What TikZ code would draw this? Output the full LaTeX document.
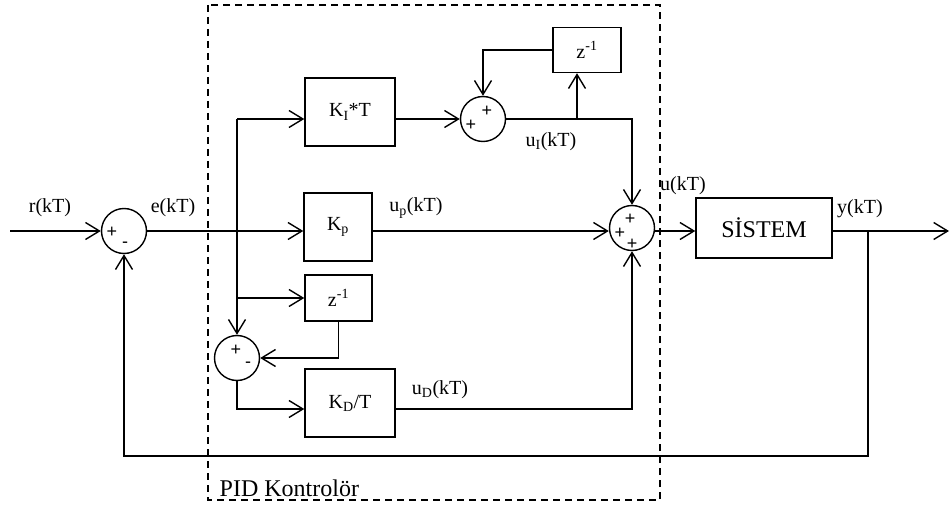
\documentclass[tikz,border=0pt]{standalone}
\usepackage{fontspec}
\setmainfont{Liberation Serif}
\newfontfamily\signfont{Liberation Sans}
\usetikzlibrary{arrows.meta,calc}
\begin{document}
\begin{tikzpicture}[x=1pt,y=-1pt,line width=1.4pt,
  >={Straight Barb[length=14pt,width=17pt,line width=1.4pt]},
  blk/.style={draw,rectangle,inner sep=0pt,font=\fontsize{20}{24}\selectfont},
  sumc/.style={draw,circle,minimum size=45pt,inner sep=0pt},
  lbl/.style={font=\fontsize{20}{24}\selectfont,inner sep=0pt},
  sgn/.style={font=\signfont\fontsize{18}{20}\selectfont,inner sep=0pt},
  pidbox/.style={dashed,dash pattern=on 7pt off 5pt,line width=1.2pt}]
\useasboundingbox (0,0) rectangle (951,508);
% dashed controller boundary
\draw[pidbox] (208,5) rectangle (660,500);
\node[anchor=base west,inner sep=0pt,font=\fontsize{24}{28}\selectfont] (pid) at (219,496) {PID Kontrolör};
% blocks
\node[blk,minimum width=90pt,minimum height=68pt] (kit) at (350,112) {K\textsubscript{I}*T};
\node[blk,minimum width=68pt,minimum height=68pt] (kp) at (338,227) {K\textsubscript{p}};
\node[blk,minimum width=67pt,minimum height=46pt] (zl) at (338.5,298) {z\textsuperscript{-1}};
\node[blk,minimum width=90pt,minimum height=68pt] (kdt) at (350,403) {K\textsubscript{D}/T};
\node[blk,minimum width=68pt,minimum height=45pt] (zu) at (587,50) {z\textsuperscript{-1}};
\node[blk,minimum width=136pt,minimum height=60pt,font=\fontsize{24}{28}\selectfont] (sis) at (764,228) {SİSTEM};
% summing junctions
\node[sumc] (s1) at (124,231) {};
\node[sumc] (sI) at (483,119) {};
\node[sumc] (sB) at (632,228) {};
\node[sumc] (sD) at (237,358) {};
% signs
\node[sgn] (s1a) at (112,232) {+};
\node[sgn] (s1b) at (125,245) {-};
\node[sgn] (sIa) at (487,111) {+};
\node[sgn] (sIb) at (471,125) {+};
\node[sgn] (sBa) at (630,219) {+};
\node[sgn] (sBb) at (620,233) {+};
\node[sgn] (sBc) at (632,244) {+};
\node[sgn] (sDa) at (236,350) {+};
\node[sgn] (sDb) at (248,365) {-};
% signal labels
\node[lbl] (lr) at (50,208) {r(kT)};
\node[lbl] (le) at (173,208) {e(kT)};
\node[lbl] (lp) at (416,208) {u\textsubscript{p}(kT)};
\node[lbl] (li) at (551,142) {u\textsubscript{I}(kT)};
\node[lbl] (ld) at (440,390) {u\textsubscript{D}(kT)};
\node[lbl] (lu) at (683,186) {u(kT)};
\node[lbl] (ly) at (860,209) {y(kT)};
% coordinates
\coordinate (in) at (10,231);
\coordinate (bt) at (237,119);
\coordinate (bz) at (237,298);
\coordinate (out) at (949,231);
\coordinate (yb) at (868,231);
\coordinate (fb) at (868,456);
\coordinate (zin) at ($(zu.south)+(-10,0)$);
\coordinate (kdin) at ($(kdt.west)+(0,6)$);
\coordinate (kdout) at ($(kdt.east)+(0,6)$);
% connectors
\draw[->] (in) -- (s1.west);
\draw[->] (s1.east) -- (kp.west |- s1);
\draw (bt) -- (bz);
\draw[->] (bt) -- (kit.west |- bt);
\draw[->] (kit.east |- bt) -- (sI.west);
\draw[->] (bz) -- (zl.west);
\draw[->] (bz) -- (sD.north);
\draw[->] (zl.south) |- (sD.east);
\draw[->] (sD.south) |- (kdin);
\draw[->] (kdout) -| (sB.south);
\draw[->] (kp.east |- s1) -- (sB.west |- s1);
\draw[->] (sI.east) -| (sB.north);
\draw[->] (zin |- sI) -- (zin);
\draw[->] (zu.west) -| (sI.north);
\draw[->] (sB.east |- s1) -- (sis.west |- s1);
\draw[->] (sis.east |- s1) -- (out);
\draw[->] (yb) -- (fb) -| (s1.south);
\end{tikzpicture}
\end{document}
